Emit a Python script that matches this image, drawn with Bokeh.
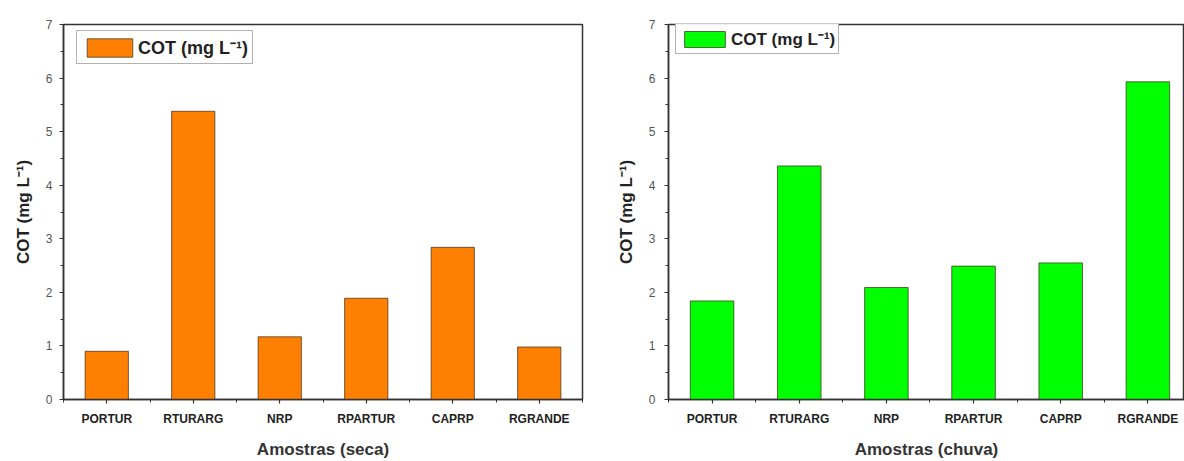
from bokeh.plotting import figure
from bokeh.layouts import row
from bokeh.models import (ColumnDataSource, FixedTicker, SingleIntervalTicker,
                          Range1d, Legend, LegendItem)
from bokeh.embed import file_html
from bokeh.resources import INLINE

# Sampling points and total organic carbon (COT) per season
amostras = ["PORTUR", "RTURARG", "NRP", "RPARTUR", "CAPRP", "RGRANDE"]
cot_seca = [0.90, 5.38, 1.17, 1.89, 2.84, 0.98]
cot_chuva = [1.84, 4.36, 2.09, 2.49, 2.55, 5.93]
y_ticks = [0, 1, 2, 3, 4, 5, 6, 7]

FONT = "Liberation Sans"
AXIS_COLOR = "#333333"


def make_panel(values, color, xlabel, width, border_left, border_right,
               border_top, x_end, cfg):
    pos = list(range(len(amostras)))
    src = ColumnDataSource(dict(x=pos, y=values))
    p = figure(width=width, height=461, output_backend="svg",
               toolbar_location=None, tools="",
               x_range=Range1d(-0.5, x_end), y_range=Range1d(y_ticks[0], y_ticks[-1]),
               min_border_left=border_left, min_border_right=border_right,
               min_border_top=border_top, min_border_bottom=58)
    p.background_fill_color = "white"
    p.border_fill_color = "white"
    p.outline_line_color = AXIS_COLOR
    p.outline_line_width = 1.5
    p.xgrid.visible = False
    p.ygrid.visible = False

    r = p.vbar(x="x", top="y", bottom=0, width=0.5, source=src,
               fill_color=color, line_color="#3a2a1a", line_alpha=0.7,
               line_width=1)

    # x axis: category labels at bar centres, minor ticks between groups
    xa = p.xaxis[0]
    xa.ticker = FixedTicker(ticks=pos,
                            minor_ticks=[i + 0.5 for i in range(-1, len(pos))])
    xa.major_label_overrides = {i: name for i, name in zip(pos, amostras)}
    xa.axis_label = xlabel
    xa.axis_label_text_font = FONT
    xa.axis_label_text_font_size = "17px"
    xa.axis_label_text_font_style = "bold"
    xa.axis_label_text_color = "#333333"
    xa.axis_label_standoff = 11
    xa.major_label_text_font = FONT
    xa.major_label_text_font_size = "12px"
    xa.major_label_text_font_style = "bold"
    xa.major_label_text_color = "#222222"
    xa.major_label_standoff = 8

    # y axis
    ya = p.yaxis[0]
    ya.ticker = SingleIntervalTicker(interval=1, num_minor_ticks=2)
    ya.axis_label = "COT (mg L\u207b\u00b9)"
    ya.axis_label_text_font = FONT
    ya.axis_label_text_font_size = "17px"
    ya.axis_label_text_font_style = "bold"
    ya.axis_label_text_color = "#222222"
    ya.axis_label_standoff = cfg["ylabel_standoff"]
    ya.major_label_text_font = FONT
    ya.major_label_text_font_size = "12px"
    ya.major_label_text_color = "#555555"
    ya.major_label_standoff = cfg["ytick_standoff"]

    for ax in (xa, ya):
        ax.axis_line_color = AXIS_COLOR
        ax.axis_line_width = 1.5
        ax.major_tick_line_color = AXIS_COLOR
        ax.minor_tick_line_color = AXIS_COLOR
        ax.major_tick_line_width = 1.2
        ax.minor_tick_line_width = 1
        ax.major_tick_in = 0
        ax.major_tick_out = 4
        ax.minor_tick_in = 0
        ax.minor_tick_out = 3

    leg = Legend(items=[LegendItem(label="COT (mg L\u207b\u00b9)", renderers=[r])],
                 location=cfg["loc"], margin=0,
                 padding=cfg["pad"], spacing=0,
                 glyph_width=cfg["gw"], glyph_height=cfg["gh"],
                 label_standoff=cfg["ls"],
                 label_text_font=FONT,
                 label_text_font_size=cfg["fs"],
                 label_text_font_style="bold",
                 label_text_color="#222222",
                 border_line_color="#666666", border_line_width=1,
                 background_fill_color="white")
    p.add_layout(leg, "center")
    return p


left = make_panel(cot_seca, "#FF8000", "Amostras (seca)", 590, 63, 8, 24, 5.5,
                  dict(loc=(13, 379 - 13 - 31), pad=4, gw=57, gh=23, fs="18px", ls=0,
                       ylabel_standoff=10, ytick_standoff=7))
right = make_panel(cot_chuva, "#00FF00", "Amostras (chuva)", 594, 78, 0, 20, 5.42,
                   dict(loc=(7, 383 - 12 - 26), pad=3, gw=51, gh=20, fs="17px", ls=1,
                        ylabel_standoff=10, ytick_standoff=9))

layout = row(left, right)
open("out.html", "w").write(file_html(layout, INLINE))
